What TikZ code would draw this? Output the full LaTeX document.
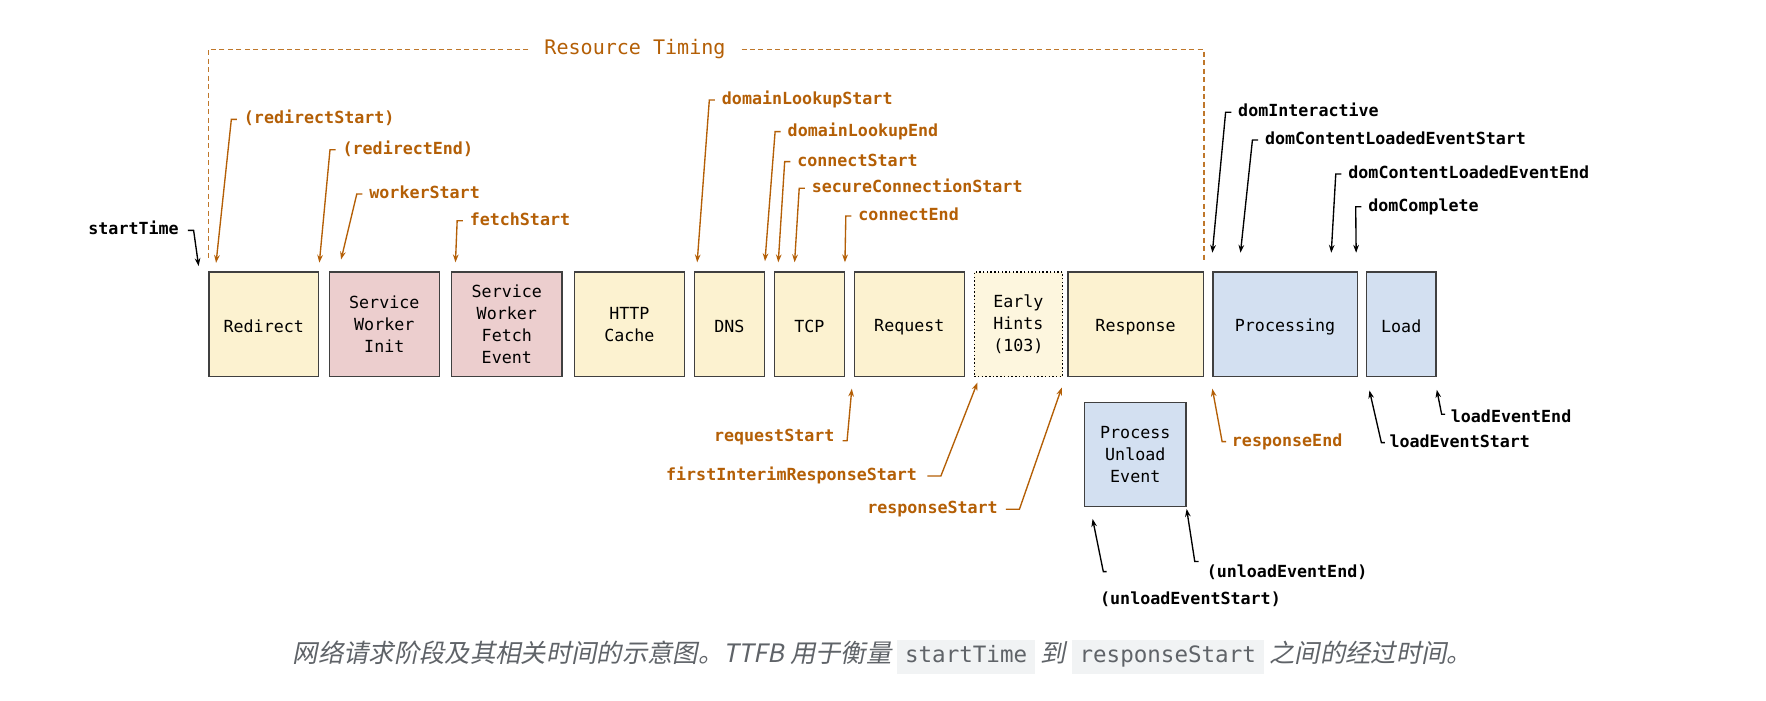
\documentclass[tikz,border=0pt]{standalone}
\usepackage{fontspec}
\setmonofont{DejaVu Sans Mono}
\newfontfamily\cjkfont[FakeSlant=0.2]{Noto Sans CJK SC}
\usetikzlibrary{arrows.meta}
\definecolor{stageyellow}{RGB}{252,242,208}
\definecolor{hintyellow}{RGB}{253,246,222}
\definecolor{stagepink}{RGB}{236,206,206}
\definecolor{stageblue}{RGB}{211,224,241}
\definecolor{stageline}{RGB}{64,64,64}
\definecolor{rtorange}{RGB}{180,95,6}
\definecolor{capgray}{RGB}{95,99,104}
\definecolor{codebg}{RGB}{241,243,244}
\newcommand{\inlinecode}[1]{{\setlength{\fboxsep}{3pt}\colorbox{codebg}{\hspace{4pt}\ttfamily\fontsize{20}{24}\selectfont\color{capgray}\strut#1\hspace{4pt}}}}

\begin{document}
\begin{tikzpicture}[x=1pt,y=-1pt,
stage/.style={draw=stageline,line width=1.2pt,minimum height=93pt,inner sep=0pt,align=center,font=\ttfamily\fontsize{14.8}{19.6}\selectfont,execute at begin node={\rule{0pt}{15pt}}},
rtlabel/.style={inner sep=0pt,text height=11pt,text depth=3pt,text=rtorange,font=\ttfamily\bfseries\fontsize{14.8}{18}\selectfont},
navlabel/.style={rtlabel,text=black},
rtarrow/.style={draw=rtorange,line width=1.2pt,-{Stealth[length=7pt,width=5pt]}},
navarrow/.style={rtarrow,draw=black},
bracket/.style={draw=rtorange!85,line width=1.1pt,dash pattern=on 4.5pt off 3pt}]
\fill[white] (0,0) rectangle (1568,622);
\node[stage,fill=stageyellow,minimum width=97.5pt] (redirect) at (234.2,288) {Redirect};
\node[stage,fill=stagepink,minimum width=97.5pt] (swinit) at (341.2,288) {Service\\Worker\\Init};
\node[stage,fill=stagepink,minimum width=98pt] (swfetch) at (450,288) {Service\\Worker\\Fetch\\Event};
\node[stage,fill=stageyellow,minimum width=97.5pt] (cache) at (558.8,288) {HTTP\\Cache};
\node[stage,fill=stageyellow,minimum width=62pt] (dns) at (647.6,288) {DNS};
\node[stage,fill=stageyellow,minimum width=62pt] (tcp) at (718.6,288) {TCP};
\node[stage,fill=stageyellow,minimum width=98pt] (request) at (807.4,288) {Request};
\node[stage,fill=hintyellow,draw=black,dash pattern=on 1.3pt off 2pt,minimum width=78.5pt] (hints) at (904.2,288) {Early\\Hints\\(103)};
\node[stage,fill=stageyellow,minimum width=120pt] (response) at (1008.3,288) {Response};
\node[stage,fill=stageblue,minimum width=128pt] (processing) at (1141,288) {Processing};
\node[stage,fill=stageblue,minimum width=62pt] (load) at (1244.1,288) {Load};
\node[stage,fill=stageblue,minimum width=90pt,minimum height=92.5pt] (unload) at (1008,403.7) {Process\\Unload\\Event};

\node[rtlabel,font=\ttfamily\fontsize{17.8}{20}\selectfont] (rtitle) at (563.8,44) {Resource Timing};
\draw[bracket] ([xshift=-14pt]rtitle.west) -| ([yshift=9pt]redirect.north west);
\draw[bracket] ([xshift=14pt]rtitle.east) -| ([yshift=9pt]response.north east);

\node[navlabel,anchor=east] (starttime) at (158.9,204.5) {startTime};
\draw[navarrow] ([xshift=8pt]starttime.east) -- ++(5,0) -- ([xshift=-8.5pt,yshift=4.7pt]redirect.north west);

\node[rtlabel,anchor=west] (redirectstart) at (216.4,106) {(redirectStart)};
\node[rtlabel,anchor=west] (redirectend) at (304,133) {(redirectEnd)};
\node[rtlabel,anchor=west] (workerstart) at (327.8,172.2) {workerStart};
\node[rtlabel,anchor=west] (fetchstart) at (416.9,196) {fetchStart};
\node[rtlabel,anchor=west] (dlstart) at (640.8,88.8) {domainLookupStart};
\node[rtlabel,anchor=west] (dlend) at (699.2,116.9) {domainLookupEnd};
\node[rtlabel,anchor=west] (connectstart) at (707.7,143.5) {connectStart};
\node[rtlabel,anchor=west] (securestart) at (720.6,167.2) {secureConnectionStart};
\node[rtlabel,anchor=west] (connectend) at (762,191.8) {connectEnd};
\draw[rtarrow] ([xshift=-6pt]redirectstart.west) -- ++(-5,0) -- ([xshift=7pt,yshift=7.5pt]redirect.north west);
\draw[rtarrow] ([xshift=-6pt]redirectend.west) -- ++(-5,0) -- ([yshift=7.7pt]redirect.north east);
\draw[rtarrow] ([xshift=-6pt]workerstart.west) -- ++(-5,0) -- ([xshift=11pt,yshift=10.5pt]swinit.north west);
\draw[rtarrow] ([xshift=-6pt]fetchstart.west) -- ++(-5,0) -- ([xshift=4pt,yshift=8pt]swfetch.north west);
\draw[rtarrow] ([xshift=-6pt]dlstart.west) -- ++(-5,0) -- ([xshift=3pt,yshift=8pt]dns.north west);
\draw[rtarrow] ([xshift=-6pt]dlend.west) -- ++(-5,0) -- ([yshift=9pt]dns.north east);
\draw[rtarrow] ([xshift=-6pt]connectstart.west) -- ++(-5,0) -- ([xshift=4pt,yshift=8pt]tcp.north west);
\draw[rtarrow] ([xshift=-6pt]securestart.west) -- ++(-5,0) -- ([xshift=18.5pt,yshift=8pt]tcp.north west);
\draw[rtarrow] ([xshift=-6pt]connectend.west) -- ++(-5,0) -- ([yshift=8pt]tcp.north east);

\node[navlabel,anchor=west] (dominteractive) at (1099.2,99.7) {domInteractive};
\node[navlabel,anchor=west] (dclstart) at (1123,124.3) {domContentLoadedEventStart};
\node[navlabel,anchor=west] (dclend) at (1197,154.5) {domContentLoadedEventEnd};
\node[navlabel,anchor=west] (domcomplete) at (1214.7,183.5) {domComplete};
\draw[navarrow] ([xshift=-6pt]dominteractive.west) -- ++(-5,0) -- ([yshift=16.5pt]processing.north west);
\draw[navarrow] ([xshift=-6pt]dclstart.west) -- ++(-5,0) -- ([xshift=25pt,yshift=16.5pt]processing.north west);
\draw[navarrow] ([xshift=-6pt]dclend.west) -- ++(-5,0) -- ([xshift=-23.6pt,yshift=16.5pt]processing.north east);
\draw[navarrow] ([xshift=-6pt]domcomplete.west) -- ++(-5,0) -- ([xshift=-1.5pt,yshift=16.5pt]processing.north east);

\node[rtlabel,anchor=east] (requeststart) at (741.1,388.3) {requestStart};
\node[rtlabel,anchor=east] (firstinterim) at (814.4,422.6) {firstInterimResponseStart};
\node[rtlabel,anchor=east] (responsestart) at (886.1,452.2) {responseStart};
\node[rtlabel,anchor=west] (responseend) at (1093.6,392.1) {responseEnd};
\draw[rtarrow] ([xshift=7pt,yshift=-3pt]requeststart.east) -- ++(4,0) -- ([xshift=-1.5pt,yshift=-10pt]request.south west);
\draw[rtarrow] ([xshift=9pt]firstinterim.east) -- ++(12,0) -- ([xshift=3.5pt,yshift=-4.5pt]hints.south west);
\draw[rtarrow] ([xshift=7pt]responsestart.east) -- ++(12,0) -- ([xshift=-5pt,yshift=-9pt]response.south west);
\draw[rtarrow] ([xshift=-5pt]responseend.west) -- ++(-3.5,0) -- ([yshift=-10pt]processing.south west);

\node[navlabel,anchor=west] (loadstart) at (1233.5,393) {loadEventStart};
\node[navlabel,anchor=west] (loadend) at (1288,370.8) {loadEventEnd};
\node[navlabel,anchor=west] (unloadstart) at (976.6,532.7) {(unloadEventStart)};
\node[navlabel,anchor=west] (unloadend) at (1071.3,508.5) {(unloadEventEnd)};
\draw[navarrow] ([xshift=-4pt]loadstart.west) -- ++(-3,0) -- ([xshift=3.4pt,yshift=-11.6pt]load.south west);
\draw[navarrow] ([xshift=-5pt,yshift=3pt]loadend.west) -- ++(-3,0) -- ([yshift=-11pt]load.south east);
\draw[navarrow] ([xshift=-7pt,yshift=10pt]unloadend.west) -- ++(-3.5,0) -- ([yshift=-1.3pt]unload.south east);
\draw[navarrow] ([xshift=6pt,yshift=18pt]unloadstart.north west) -- ++(-3,0) -- ([xshift=7.7pt,yshift=-10.2pt]unload.south west);

\node[inner sep=0pt,text=capgray,font=\cjkfont\fontsize{22.5}{26}\selectfont] (caption) at (783.5,583.5)
{网络请求阶段及其相关时间的示意图。TTFB 用于衡量 \inlinecode{startTime} 到 \inlinecode{responseStart} 之间的经过时间。};
\end{tikzpicture}
\end{document}
